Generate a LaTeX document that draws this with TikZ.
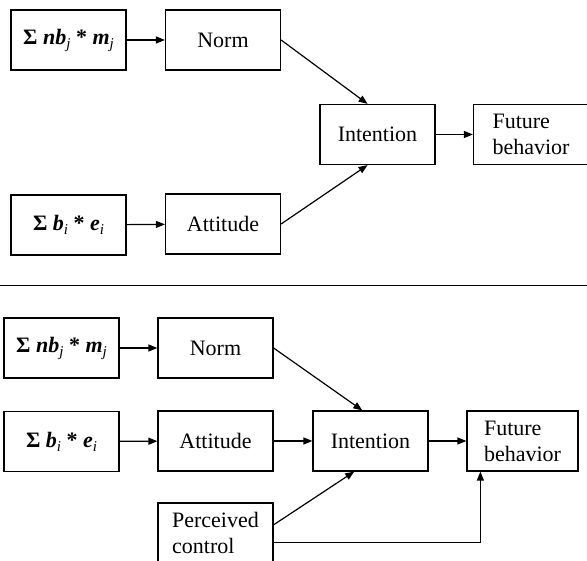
\documentclass[tikz,border=0pt]{standalone}
\usepackage{fontspec}
\setmainfont{Liberation Serif}
\usetikzlibrary{arrows.meta}

\newcommand{\lowidx}[1]{\raisebox{-0.4ex}{\fontsize{15}{15}\selectfont\textit{#1}}}

\tikzset{
  link/.style={line width=1.2pt,-{Triangle[length=9pt,width=7pt]}},
}

\begin{document}
\begin{tikzpicture}[x=1pt,y=-1pt]
        \useasboundingbox (0,0) rectangle (587,561);

        \begin{scope}[every node/.style={draw,rectangle,line width=1.2pt,inner sep=0pt,
            minimum width=115pt,minimum height=60pt,align=left,
            font=\fontsize{22}{26}\selectfont}]
          % upper model
          \node (sn1) at (68.5,40)   {\textbf{Σ \textit{nb}}\lowidx{j}\ \textbf{*} \textbf{\textit{m}}\lowidx{j}};
          \node (n1)  at (223,40)    {Norm};
          \node (i1)  at (377.5,134.5) {Intention};
          \node (f1)  at (531,134.5) {Future\\behavior};
          \node (sb1) at (68.5,225)  {\textbf{Σ \textit{b}}\lowidx{i}\ \textbf{*} \textbf{\textit{e}}\lowidx{i}};
          \node (a1)  at (223,224)   {Attitude};

          % lower model
          \node (sn2) at (61.5,348)  {\textbf{Σ \textit{nb}}\lowidx{j}\ \textbf{*} \textbf{\textit{m}}\lowidx{j}};
          \node (n2)  at (215.5,348) {Norm};
          \node (sb2) at (61.5,441.5) {\textbf{Σ \textit{b}}\lowidx{i}\ \textbf{*} \textbf{\textit{e}}\lowidx{i}};
          \node (a2)  at (215.5,441) {Attitude};
          \node (i2)  at (370.5,441) {Intention};
          \node[minimum width=111pt] (f2) at (522.5,441) {Future\\behavior};
          \node (p2)  at (215.5,533) {Perceived\\control};
        \end{scope}

        \coordinate (sepl) at (0,285.5);
        \coordinate (sepr) at (587,285.5);
        \draw[line width=1.3pt] (sepl) -- (sepr);

        \draw[link] (sn1) -- (n1);
        \draw[link] (sb1) -- (a1);
        \draw[link] (n1.east) -- (i1.108);
        \draw[link] (a1.east) -- (i1.-108);
        \draw[link] (i1) -- (f1);

        \draw[link] (sn2) -- (n2);
        \draw[link] (sb2) -- (a2);
        \draw[link] (a2) -- (i2);
        \draw[link] (n2.east) -- (i2.105);
        \draw[link] (p2.8) -- (i2.242);
        \draw[link] (i2) -- (f2);
        \draw[link] (p2.-9) -| ([xshift=14pt]f2.south west);

      \end{tikzpicture}
\end{document}
